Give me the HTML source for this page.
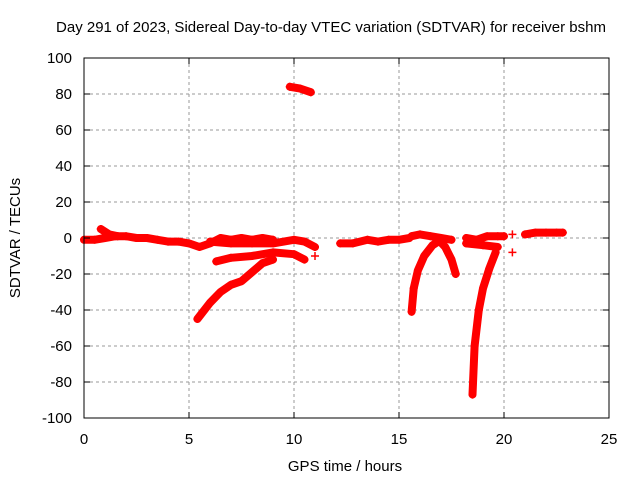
<!DOCTYPE html>
<html><head><meta charset="utf-8"><style>
body{margin:0;background:#fff;}
svg{display:block;font-family:"Liberation Sans",sans-serif;}
</style></head><body>
<svg id="c" width="640" height="480">
<rect width="640" height="480" fill="#fff"/>
<text x="331" y="32" font-size="15" text-anchor="middle">Day 291 of 2023, Sidereal Day-to-day VTEC variation (SDTVAR) for receiver bshm</text>
<g id="grid"></g>
<g id="series"></g>
<rect x="84" y="58" width="525" height="360" fill="none" stroke="#000" stroke-width="1"/>
<g id="ticks"></g>
<text x="345" y="471" font-size="15" text-anchor="middle">GPS time / hours</text>
<text transform="translate(20,238) rotate(-90)" font-size="15" text-anchor="middle">SDTVAR / TECUs</text>
</svg>
<script>
const xTicks=[0,5,10,15,20,25];
const yTicks=[-100,-80,-60,-40,-20,0,20,40,60,80,100];
const segHours=[
[0,0.5,1,1.5,2,2.5,3,3.5,4,4.5,5,5.5,6,6.5,7,7.5,8,8.5,9],
[0.8,1.2,1.6],
[6,7,8,9,10,10.5,11],
[6.3,7,8,9,10,10.5],
[5.4,6,6.5,7,7.5,8,8.5,9],
[9.8,10.3,10.8],
[11,11],
[12.2,12.8,13.5,14,14.5,15,15.5],
[15.6,15.7,15.9,16.2,16.6,17],
[15.6,16,16.5,17,17.5],
[16.8,17.2,17.5,17.7],
[18.2,18.7,19.2,19.7,20],
[18.2,19,19.7],
[18.5,18.6,18.8,19,19.3,19.6],
[20.4,20.4],
[21,21.5,22,22.5,22.8]
];
const segValues=[
[-1,-1,0,1,1,0,0,-1,-2,-2,-3,-5,-3,0,-1,0,-1,0,-1],
[5,2,1],
[-2,-3,-3,-3,-1,-2,-5],
[-13,-11,-10,-8,-9,-12],
[-45,-36,-30,-26,-24,-19,-14,-12],
[84,83,81],
[-5,-10],
[-3,-3,-1,-2,-1,-1,0],
[-41,-28,-18,-10,-4,-1],
[1,2,1,0,-1],
[0,-5,-12,-20],
[0,-1,1,1,1],
[-3,-4,-5],
[-87,-60,-40,-28,-17,-8],
[2,-8],
[2,3,3,3,3]
];
const X=h=>84+h*21, Y=v=>238-v*1.8;
const NS="http://www.w3.org/2000/svg";
const g=document.getElementById('grid'),t=document.getElementById('ticks'),s=document.getElementById('series');
function mk(tag,a,p){const e=document.createElementNS(NS,tag);for(const k in a)e.setAttribute(k,a[k]);p.appendChild(e);return e;}
xTicks.forEach(v=>{
 if(v>0&&v<25){const l=mk('line',{x1:X(v),x2:X(v),y1:58,y2:418,stroke:'#999','stroke-dasharray':'3,3'},g);
 
 }
 mk('line',{x1:X(v),x2:X(v),y1:418,y2:412,stroke:'#000'},t);
 mk('line',{x1:X(v),x2:X(v),y1:58,y2:64,stroke:'#000'},t);
 const tx=mk('text',{x:X(v),y:444,'font-size':15,'text-anchor':'middle'},t);tx.textContent=v;
 
 
});
yTicks.forEach(v=>{
 if(v>-100&&v<100){const l=mk('line',{x1:84,x2:609,y1:Y(v),y2:Y(v),stroke:'#999','stroke-dasharray':'3,3'},g);
 
 }
 mk('line',{x1:84,x2:90,y1:Y(v),y2:Y(v),stroke:'#000'},t);
 mk('line',{x1:609,x2:603,y1:Y(v),y2:Y(v),stroke:'#000'},t);
 const tx=mk('text',{x:72,y:Y(v)+5,'font-size':15,'text-anchor':'end'},t);tx.textContent=v;
 
 
});
segHours.forEach((hs,i)=>{
 const vs=segValues[i];
 const pts=hs.map((h,j)=>X(h)+','+Y(vs[j])).join(' ');
 if(hs.length>2||i===5){const pl=mk('polyline',{points:pts,fill:'none',stroke:'#f00','stroke-width':8,'stroke-linejoin':'round','stroke-linecap':'round'},s);
 
 }
 hs.forEach((h,j)=>{
  const p=mk('path',{d:`M${X(h)-4},${Y(vs[j])}h8M${X(h)},${Y(vs[j])-4}v8`,stroke:'#f00','stroke-width':1.5},s);
  
  
 });
});
</script>
</body></html>
